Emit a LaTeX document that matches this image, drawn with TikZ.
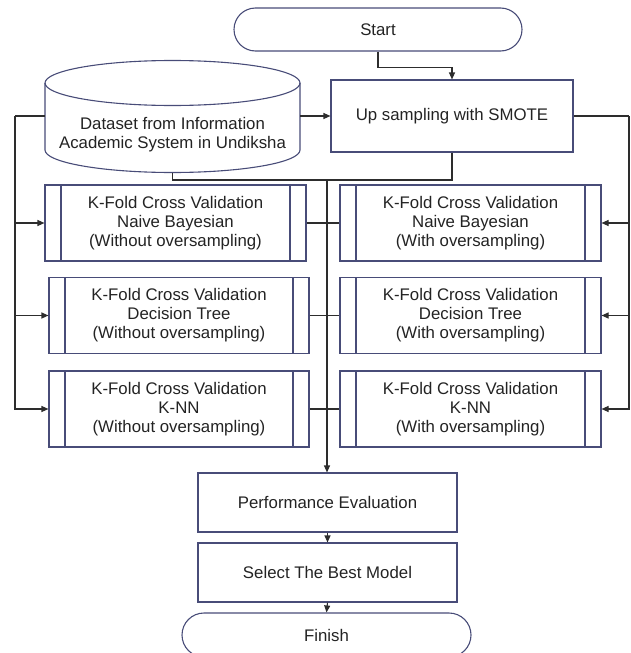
\documentclass[tikz,border=0pt]{standalone}
\usepackage{fontspec}
\setmainfont{Liberation Sans}
\usetikzlibrary{arrows.meta}
\definecolor{boxcol}{RGB}{72,76,120}
\definecolor{linecol}{RGB}{45,45,45}
\definecolor{txtcol}{RGB}{35,35,35}
\begin{document}
\begin{tikzpicture}[x=1pt,y=1pt,
  every node/.style={font=\fontsize{16.8}{19}\selectfont, text=txtcol, align=center, inner sep=0pt},
  term/.style={draw=boxcol, line width=1.1pt, rounded corners=21.5pt, minimum height=43pt},
  proc/.style={draw=boxcol, line width=1.1pt, minimum width=259pt, minimum height=59pt},
  kf/.style={draw=boxcol, line width=1.1pt, minimum width=#1, minimum height=76pt,
    path picture={
      \draw[boxcol, line width=1.1pt] ([xshift=16pt]path picture bounding box.north west) -- ([xshift=16pt]path picture bounding box.south west);
      \draw[boxcol, line width=1.1pt] ([xshift=-16pt]path picture bounding box.north east) -- ([xshift=-16pt]path picture bounding box.south east);
    }},
  conn/.style={draw=linecol, line width=1.1pt},
  arr/.style={conn, -{Triangle[length=7pt,width=6pt]}}
]
\useasboundingbox (0,0) rectangle (631,-653);
\clip (0,0) rectangle (631,-653);

% terminals and processes
\node[term, minimum width=288pt] (start) at (378,-29.5) {Start};
\node[draw=boxcol, line width=1.1pt, minimum width=242pt, minimum height=72pt] (up) at (452,-116) {Up sampling with SMOTE};

% cylinder
\node[minimum width=255pt, minimum height=112pt] (data) at (172.5,-116) {};
\draw[boxcol, line width=1.1pt, fill=white] (45,-83) -- (45,-150)
  arc[start angle=180, end angle=360, x radius=127.5, y radius=22.5] -- (300,-83);
\draw[boxcol, line width=1.1pt] (172.5,-83) ellipse [x radius=127.5, y radius=22.5];
\node (datatxt) at (172.5,-134.5) {Dataset from Information\\Academic System in Undiksha};

% K-fold boxes
\node[kf=261pt] (nbL) at (175.5,-223) {K-Fold Cross Validation\\Naive Bayesian\\(Without oversampling)};
\node[kf=260pt] (dtL) at (179,-315.5) {K-Fold Cross Validation\\Decision Tree\\(Without oversampling)};
\node[kf=260pt] (knL) at (179,-409) {K-Fold Cross Validation\\K-NN\\(Without oversampling)};
\node[kf=261pt] (nbR) at (470.5,-223) {K-Fold Cross Validation\\Naive Bayesian\\(With oversampling)};
\node[kf=261pt] (dtR) at (470.5,-315.5) {K-Fold Cross Validation\\Decision Tree\\(With oversampling)};
\node[kf=261pt] (knR) at (470.5,-409) {K-Fold Cross Validation\\K-NN\\(With oversampling)};

\node[proc] (pe) at (327.5,-502.5) {Performance Evaluation};
\node[proc] (sel) at (327.5,-572.5) {Select The Best Model};
\node[term, minimum width=289pt, minimum height=44pt, rounded corners=22pt] (fin) at (326.5,-635) {Finish};

% connectors
\coordinate (lbus) at (15,-116);
\coordinate (rbus) at (629,-116);
\coordinate (jn) at (327,-180);
\coordinate (dbot) at (172.5,-172.5);

\draw[arr] (start.south) -- ++(0,-16) -| (up.north);
\draw[arr] (data.east) -- (up.west);
\draw[conn] (data.west) -- (lbus);
\draw[arr] (lbus) |- (nbL.west);
\draw[arr] (lbus) |- (dtL.west);
\draw[arr] (lbus) |- (knL.west);
\draw[conn] (up.east) -- (rbus);
\draw[arr] (rbus) |- (nbR.east);
\draw[arr] (rbus) |- (dtR.east);
\draw[arr] (rbus) |- (knR.east);
\draw[conn] (up.south) |- (dbot |- jn) -- (dbot);
\draw[arr] (jn) -- (jn |- pe.north);
\draw[conn] (nbL.east) -- (nbR.west);
\draw[conn] (dtL.east) -- (dtR.west);
\draw[conn] (knL.east) -- (knR.west);
\draw[arr] (pe.south) -- (sel.north);
\draw[arr] (sel.south) -- (fin.north);
\end{tikzpicture}
\end{document}
